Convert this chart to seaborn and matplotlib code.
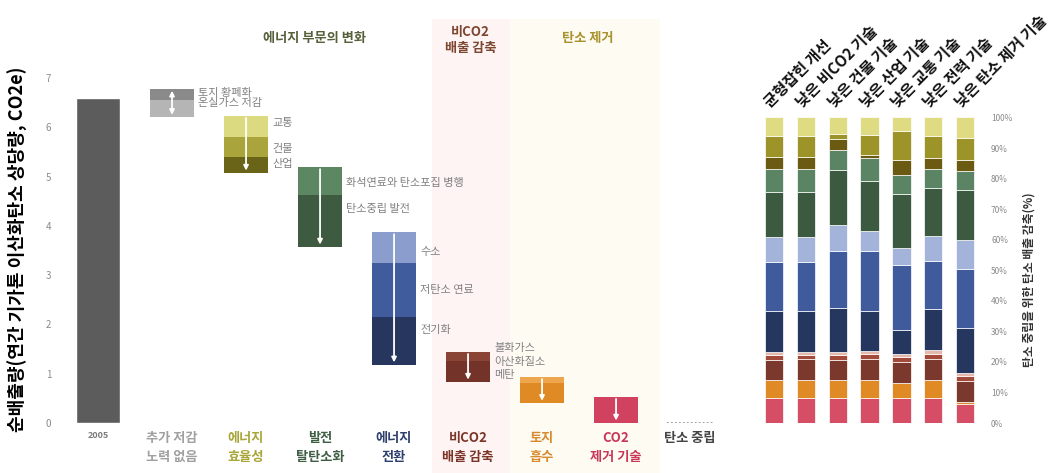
import numpy as np
import pandas as pd
import matplotlib.pyplot as plt
import seaborn as sns

# ---- left: waterfall of net emissions (Gt CO2e) ----
steps = ['2005', '추가 저감\n노력 없음', '에너지\n효율성', '발전\n탈탄소화', '에너지\n전환',
         '비CO2\n배출 감축', '토지\n흡수', 'CO2\n제거 기술', '탄소 중립']
step_label_colors = ['#7a7a7a', '#a0a0a0', '#a9a63a', '#3f5e44', '#2f406e',
                     '#7b3528', '#d88a2e', '#c8365a', '#444444']
emis_2005 = 6.6

# segment edges of each floating bar, top -> bottom
edges_none = [6.78, 6.56, 6.20]
edges_eff = [6.23, 5.80, 5.40, 5.07]
edges_power = [5.19, 4.62, 3.57]
edges_trans = [3.87, 3.25, 2.15, 1.18]
edges_nonco2 = [1.44, 1.25, 0.83]
edges_land = [0.93, 0.82, 0.40]
edges_cdr = [0.53, 0.0]
net_zero = 0.0

seg_labels_none = ['토지 황폐화', '온실가스 저감']
seg_labels_eff = ['교통', '건물', '산업']
seg_labels_power = ['화석연료와 탄소포집 병행', '탄소중립 발전']
seg_labels_trans = ['수소', '저탄소 연료', '전기화']
seg_labels_nonco2 = ['불화가스', '아산화질소', '메탄']

# ---- right: share of reductions per scenario (%) ----
scenarios = ['균형잡힌 개선', '낮은 비CO2 기술', '낮은 건물 기술', '낮은 산업 기술',
             '낮은 교통 기술', '낮은 전력 기술', '낮은 탄소 제거 기술']
cdr = [8.1, 8.1, 8.1, 8.1, 8.1, 8.1, 6.2]
land = [6.0, 6.0, 6.0, 6.0, 5.1, 6.0, 0.8]
methane = [6.6, 6.8, 6.6, 6.7, 6.9, 6.9, 6.8]
n2o = [1.6, 1.4, 1.6, 1.8, 1.6, 1.6, 1.5]
fgas = [1.1, 0.9, 1.1, 1.1, 0.8, 1.2, 1.0]
electrification = [13.4, 13.4, 14.2, 13.1, 8.0, 13.4, 14.7]
lowcarbon_fuel = [16.1, 16.2, 18.6, 19.6, 21.3, 15.8, 19.4]
hydrogen = [8.0, 8.0, 8.5, 6.6, 5.5, 8.0, 9.6]
zero_carbon_power = [14.7, 14.7, 18.0, 16.1, 17.5, 16.0, 16.4]
fossil_ccs = [7.6, 7.6, 6.8, 7.7, 6.5, 6.1, 6.2]
industry = [3.9, 3.9, 3.5, 0.8, 4.9, 3.6, 3.6]
buildings = [6.8, 6.8, 1.5, 6.6, 9.3, 7.1, 7.1]
transport = [6.2, 6.2, 5.5, 5.8, 4.5, 6.1, 6.7]

sns.set_theme(style='white')
plt.rcParams['font.family'] = ['Noto Sans CJK KR', 'DejaVu Sans']

fig = plt.figure(figsize=(10.56, 4.73), dpi=100)
ax = fig.add_axes([0.0578, 0.1057, 0.6307, 0.8755])
ax2 = fig.add_axes([0.715, 0.1057, 0.2169, 0.6459])

# background bands
ax.axvspan(4.51, 5.57, ymin=-0.125, ymax=0.975, color='#fdf4f3', lw=0, clip_on=False, zorder=0)
ax.axvspan(5.57, 7.59, ymin=-0.125, ymax=0.975, color='#fefcf2', lw=0, clip_on=False, zorder=0)

df_base = pd.DataFrame({'step': steps[:1], 'emis': [emis_2005]})
sns.barplot(data=df_base, x='step', y='emis', order=steps, color='#5c5c5c',
            saturation=1, width=0.59, ax=ax, zorder=2)

wf_edges = [edges_none, edges_eff, edges_power, edges_trans, edges_nonco2, edges_land, edges_cdr]
wf_colors = [['#8a8a8a', '#b5b5b5'],
             ['#dcda80', '#aaa43c', '#6a6418'],
             ['#5d8663', '#3e5b41'],
             ['#8a9dcc', '#405c9c', '#26365f'],
             ['#8a4436', '#733328'],
             ['#eea64e', '#e08a26'],
             ['#d0425f']]
wf_labels = [seg_labels_none, seg_labels_eff, seg_labels_power, seg_labels_trans,
             seg_labels_nonco2, [], []]
label_y = [[6.69, 6.49], [6.08, 5.56, 5.25], [4.87, 4.34], [3.47, 2.70, 1.89],
           [1.52, 1.24, 0.97], [], []]
w = 0.59
for i, (ed, cols) in enumerate(zip(wf_edges, wf_colors), start=1):
    tops, bots = np.array(ed[:-1]), np.array(ed[1:])
    ax.bar([i] * len(cols), tops - bots, bottom=bots, width=w, color=cols, lw=0, zorder=2)
    style = '<|-|>' if i == 1 else '-|>'
    ax.annotate('', xy=(i, ed[-1] + 0.05), xytext=(i, ed[0] - 0.04),
                arrowprops=dict(arrowstyle=style, color='white', lw=1.3,
                                mutation_scale=7, shrinkA=0, shrinkB=0), zorder=3)
    for lab, yv in zip(wf_labels[i - 1], label_y[i - 1]):
        ax.text(i + w / 2 + 0.06, yv, lab, fontsize=8, color='#808080', va='center', ha='left')

ax.hlines(net_zero, 8 - 0.31, 8 + 0.31, colors='#9a9a9a', linestyles=(0, (1, 1.2)), lw=1.3)

ax.text(2.93, 7.81, '에너지 부문의 변화', ha='center', va='center', fontsize=9.5,
        fontweight='bold', color='#55603a')
ax.text(5.03, 7.77, '비CO2\n배출 감축', ha='center', va='center', fontsize=9.5,
        fontweight='bold', color='#7d4630', linespacing=1.1)
ax.text(6.62, 7.81, '탄소 제거', ha='center', va='center', fontsize=9.5,
        fontweight='bold', color='#a8922e')

ax.set_xlim(-0.5, 8.5)
ax.set_ylim(0, 8.4)
ax.set_yticks(range(8))
ax.tick_params(axis='y', labelsize=7, labelcolor='#8a8a8a', pad=7, length=0)
ax.set_xticks(range(len(steps)))
ax.set_xticklabels(steps, fontsize=9.5, fontweight='bold', linespacing=1.4)
for t, c in zip(ax.get_xticklabels(), step_label_colors):
    t.set_color(c)
ax.get_xticklabels()[0].set_fontsize(6.5)
ax.tick_params(axis='x', pad=6, length=0)
ax.set_xlabel('')
ax.set_ylabel('순배출량(연간 기가톤 이산화탄소 상당량, CO2e)', fontsize=13,
              fontweight='bold', color='black')
ax.yaxis.set_label_coords(-0.05, 0.42)
sns.despine(ax=ax, left=True, bottom=True)

# ---- right stacked bars ----
parts = [cdr, land, methane, n2o, fgas, electrification, lowcarbon_fuel, hydrogen,
         zero_carbon_power, fossil_ccs, industry, buildings, transport]
part_colors = ['#d64d66', '#e08a25', '#7b382c', '#a44a3b', '#e6b7ab', '#26375f',
               '#3f5b9b', '#a3b3da', '#3c5a40', '#5b8465', '#6a5a12', '#9c9428', '#dedb82']
shares = np.array(parts, dtype=float)
shares = shares / shares.sum(axis=0) * 100
xpos = np.arange(len(scenarios))
bottom = np.zeros(len(scenarios))
for vals, c in zip(shares, part_colors):
    ax2.bar(xpos, vals, bottom=bottom, width=0.58, color=c, edgecolor='white', lw=0.5)
    bottom += vals

for i, s in enumerate(scenarios):
    ax2.text(i - 0.05, 102.5, s, rotation=45, rotation_mode='anchor', ha='left', va='bottom',
             fontsize=11, fontweight='bold', color='#111111')

ax2.set_xlim(-0.6, 6.6)
ax2.set_ylim(0, 100)
ax2.set_xticks([])
ax2.yaxis.tick_right()
ax2.set_yticks(range(0, 101, 10))
ax2.set_yticklabels([f'{v}%' for v in range(0, 101, 10)])
ax2.tick_params(axis='y', labelsize=6, labelcolor='#8a8a8a', pad=5, length=0)
ax2.yaxis.set_label_position('right')
ax2.set_ylabel('탄소 중립을 위한 탄소 배출 감축(%)', fontsize=8.5, fontweight='bold',
               color='#333333')
ax2.yaxis.set_label_coords(1.166, 0.468)
sns.despine(ax=ax2, left=True, bottom=True)

fig.savefig('out.png', dpi=100)
